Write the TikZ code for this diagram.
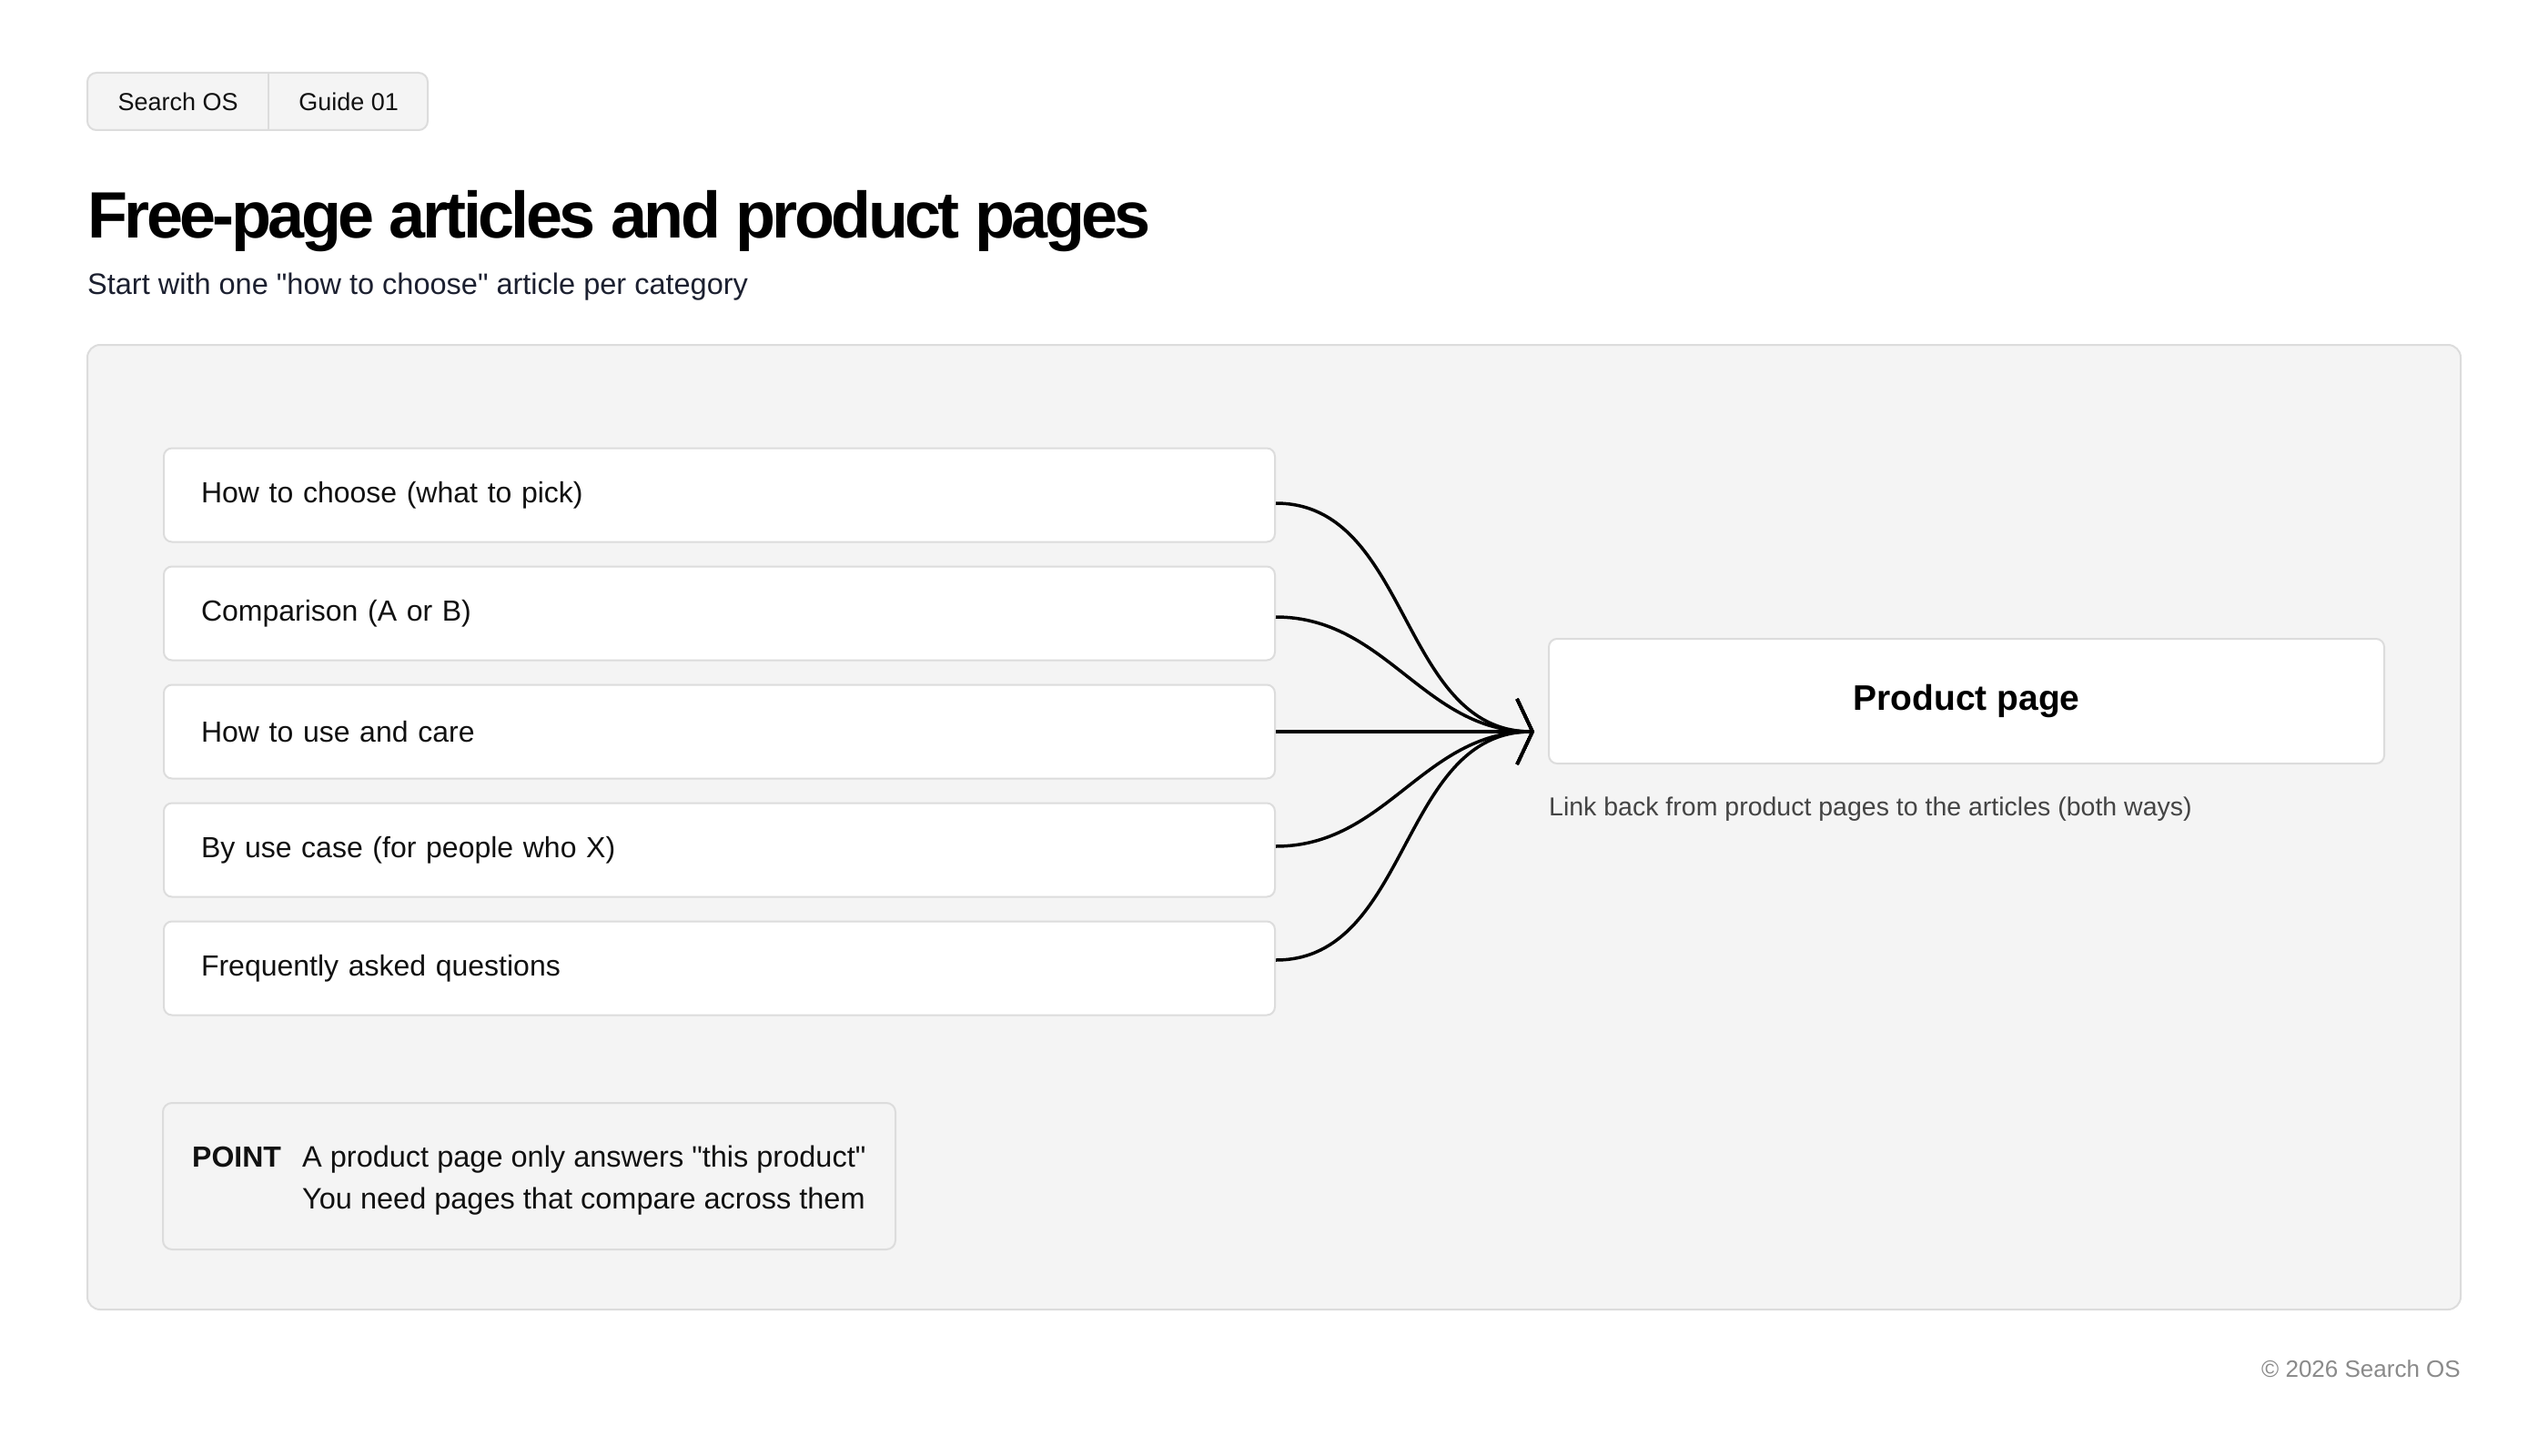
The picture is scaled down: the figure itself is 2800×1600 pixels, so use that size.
\documentclass[tikz,border=0pt]{standalone}
\usepackage{fontspec}
\setmainfont{Liberation Sans}
\usetikzlibrary{arrows.meta}

\definecolor{panelfill}{HTML}{F4F4F4}
\definecolor{boxline}{HTML}{DCDCDC}
\definecolor{inkdark}{HTML}{111111}
\definecolor{subink}{HTML}{1C2030}
\definecolor{capgray}{HTML}{444444}
\definecolor{footgray}{HTML}{8A8A8A}

\newcommand{\fsize}[2]{\fontsize{#1}{#2}\selectfont}

\tikzset{
  plain/.style={inner sep=0pt, text=inkdark},
  tabtext/.style={inner sep=0pt, minimum height=63pt, text=inkdark, font=\fsize{27}{32}},
  article/.style={draw=boxline, line width=2pt, fill=white, rounded corners=9pt,
    minimum height=103pt, text width=1139pt, inner xsep=41pt, inner ysep=0pt,
    align=left, anchor=west, text=inkdark, font=\fsize{32}{38}},
  prodbox/.style={draw=boxline, line width=2pt, fill=white, rounded corners=9pt,
    minimum width=918pt, minimum height=137pt, text=black, font=\bfseries\fsize{39}{46}},
  link/.style={line width=3.5pt, -{Straight Barb[length=17pt,width=72pt]}},
}

\begin{document}
\begin{tikzpicture}[x=1pt,y=-1pt]
\useasboundingbox[fill=white] (0,0) rectangle (2800,1600);

% header tabs
\draw[draw=boxline, line width=2pt, fill=panelfill, rounded corners=10pt] (96,80) rectangle (470,143);
\node[tabtext, minimum width=199pt, anchor=west] (tabsite) at (96,111.5) {Search OS};
\node[tabtext, minimum width=175pt, anchor=west] (tabguide) at (tabsite.east) {Guide 01};
\draw[boxline, line width=2pt] (tabsite.north east) -- (tabsite.south east);

\node[plain, anchor=base west, text=black,
  font=\bfseries\fsize{72}{86}\addfontfeatures{LetterSpace=-5}] (title) at (96,261)
  {Free-page articles and product pages};
\node[plain, anchor=base west, text=subink, font=\fsize{32.5}{40}] (subtitle) at (96,323)
  {Start with one \textquotedbl how to choose\textquotedbl{} article per category};

% panel
\draw[draw=boxline, line width=2pt, fill=panelfill, rounded corners=14pt] (96,379) rectangle (2704,1439);

\node[article] (choose) at (179,544) {How to choose (what to pick)};
\node[article] (compare) at (179,674) {Comparison (A or B)};
\node[article] (usecare) at (179,804) {How to use and care};
\node[article] (usecase) at (179,934) {By use case (for people who X)};
\node[article] (faq) at (179,1064) {Frequently asked questions};

\coordinate (hub) at (1686,804);
\draw[link] ([yshift=-9pt]choose.east) to[out=0,in=180] (hub);
\draw[link] ([yshift=-4pt]compare.east) to[out=0,in=180] (hub);
\draw[link] (usecare.east) -- (hub);
\draw[link] ([yshift=4pt]usecase.east) to[out=0,in=180] (hub);
\draw[link] ([yshift=9pt]faq.east) to[out=0,in=180] (hub);

\node[prodbox] (product) at (2161,770.5) {Product page};
\node[plain, anchor=base west, text=capgray, font=\fsize{28.5}{34}] (backlink) at (1702,896)
  {Link back from product pages to the articles (both ways)};

% point box
\draw[draw=boxline, line width=2pt, fill=panelfill, rounded corners=10pt] (179,1212) rectangle (984,1373);
\node[plain, anchor=base west, font=\bfseries\fsize{32}{38}] (point) at (211,1282) {POINT};
\node[plain, anchor=base west, font=\fsize{32.5}{38}] (pointa) at (332,1282)
  {A product page only answers \textquotedbl this product\textquotedbl};
\node[plain, anchor=base west, font=\fsize{32.5}{38}] (pointb) at (332,1328)
  {You need pages that compare across them};

\node[plain, anchor=base east, text=footgray, font=\fsize{26}{31}] (footer) at (2704,1513)
  {© 2026 Search OS};

\end{tikzpicture}
\end{document}
